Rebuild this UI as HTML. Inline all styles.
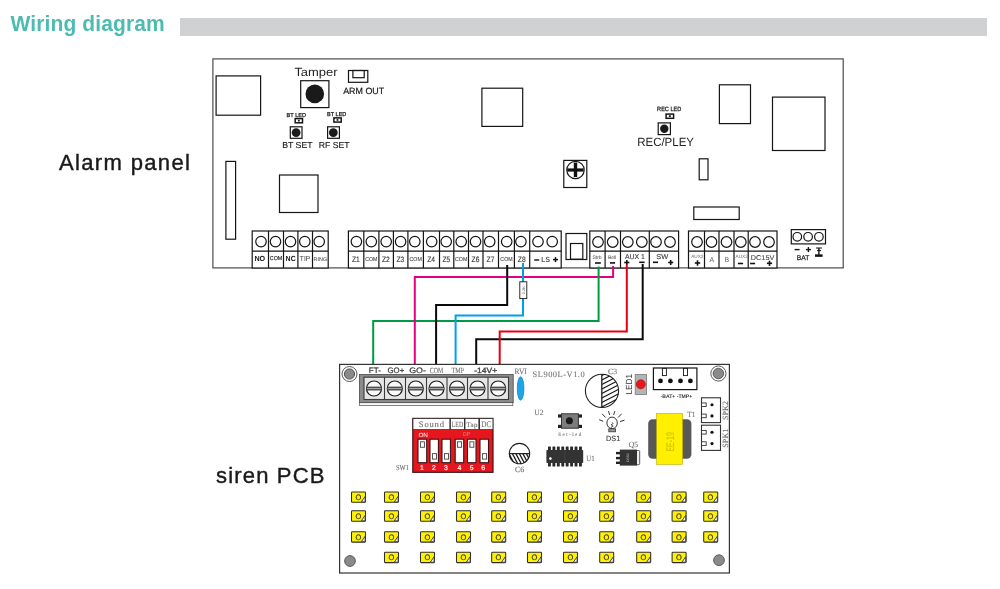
<!DOCTYPE html>
<html lang="en"><head><meta charset="utf-8"><title>Wiring diagram</title>
<style>html,body{margin:0;padding:0;background:#fff;}body{width:1000px;height:589px;overflow:hidden;position:relative;font-family:"Liberation Sans",sans-serif;}#stage{position:absolute;left:0;top:0;width:1000px;height:589px;will-change:transform;}svg{position:absolute;left:0;top:0;display:block;text-rendering:geometricPrecision;}.title{position:absolute;left:10.5px;top:12.1px;font-size:21px;line-height:24px;font-weight:bold;color:#4cbcb0;letter-spacing:0.12px;transform:scale(1,1.06);transform-origin:0 19.27px;white-space:nowrap;margin:0;}.bar{position:absolute;left:180px;top:18px;width:806.8px;height:17.9px;background:#d0d1d2;}.lbl{position:absolute;font-size:21.4px;line-height:24px;color:#1a1a1a;letter-spacing:1.33px;white-space:nowrap;transform:scaleX(1.03);transform-origin:0 0;-webkit-text-stroke:0.4px #1a1a1a;}</style></head><body>
<div id="stage">
<h1 class="title">Wiring diagram</h1><div class="bar"></div>
<div class="lbl" style="left:58.8px;top:150.5px;letter-spacing:1.3px;">Alarm panel</div>
<div class="lbl" style="left:216.4px;top:464.4px;letter-spacing:1.13px;">siren PCB</div>
<svg width="1000" height="589" viewBox="0 0 1000 589">
<g id="alarm-panel">
<rect x="212.90" y="58.90" width="630.30" height="209.00" fill="none" stroke="#444" stroke-width="1.15"/>
<rect x="216.10" y="75.90" width="44.50" height="39.30" fill="none" stroke="#151515" stroke-width="1.2"/>
<rect x="225.90" y="161.40" width="9.70" height="77.80" fill="none" stroke="#151515" stroke-width="1.2"/>
<rect x="279.50" y="175.00" width="38.50" height="37.50" fill="none" stroke="#151515" stroke-width="1.2"/>
<rect x="481.90" y="88.20" width="40.80" height="38.20" fill="none" stroke="#151515" stroke-width="1.2"/>
<rect x="719.40" y="84.80" width="31.10" height="38.80" fill="none" stroke="#151515" stroke-width="1.2"/>
<rect x="772.50" y="97.10" width="52.50" height="53.40" fill="none" stroke="#151515" stroke-width="1.2"/>
<rect x="699.20" y="158.80" width="8.80" height="21.00" fill="none" stroke="#151515" stroke-width="1.2"/>
<rect x="693.80" y="207.00" width="45.40" height="12.50" fill="none" stroke="#151515" stroke-width="1.2"/>
<text font-size="11.87" fill="#222" font-family="'Liberation Sans', sans-serif" transform="translate(294.40 76.10) scale(1.0913 1)" x="-0.000" y="0">Tamper</text>
<rect x="300.70" y="80.70" width="28.20" height="26.90" fill="none" stroke="#151515" stroke-width="1.2"/>
<circle cx="314.80" cy="93.90" r="9.30" fill="#1a1a1a" stroke="none" stroke-width="1.2"/>
<rect x="348.50" y="70.50" width="19.30" height="11.80" fill="none" stroke="#151515" stroke-width="1.2"/>
<rect x="352.90" y="70.50" width="11.30" height="7.20" fill="none" stroke="#151515" stroke-width="1.2"/>
<text font-size="9.01" fill="#1a1a1a" font-family="'Liberation Sans', sans-serif" stroke="#1a1a1a" stroke-width="0.2" transform="translate(343.20 93.60) scale(0.9869 1)" x="-0.000" y="0">ARM OUT</text>
<text font-size="5.72" fill="#1a1a1a" font-family="'Liberation Sans', sans-serif" stroke="#1a1a1a" stroke-width="0.25" transform="translate(286.60 117.20) scale(0.9738 1)" x="-0.000" y="0">BT LED</text>
<rect x="295.20" y="118.60" width="7.30" height="4.20" fill="none" stroke="#151515" stroke-width="1.5"/>
<rect x="297.90" y="119.80" width="1.80" height="1.70" fill="#151515" stroke="none" stroke-width="1.2"/>
<rect x="290.30" y="126.80" width="11.70" height="11.50" fill="none" stroke="#151515" stroke-width="1.2"/>
<circle cx="296.10" cy="132.60" r="4.40" fill="#1a1a1a" stroke="none" stroke-width="1.2"/>
<text font-size="8.59" fill="#1a1a1a" font-family="'Liberation Sans', sans-serif" stroke="#1a1a1a" stroke-width="0.15" transform="translate(282.20 148.20) scale(1.0164 1)" x="-0.000" y="0">BT SET</text>
<text font-size="5.72" fill="#1a1a1a" font-family="'Liberation Sans', sans-serif" stroke="#1a1a1a" stroke-width="0.25" transform="translate(327.10 116.10) scale(0.9637 1)" x="-0.000" y="0">BT LED</text>
<rect x="333.90" y="117.90" width="7.30" height="4.20" fill="none" stroke="#151515" stroke-width="1.5"/>
<rect x="336.60" y="119.10" width="1.80" height="1.70" fill="#151515" stroke="none" stroke-width="1.2"/>
<rect x="327.60" y="126.80" width="11.80" height="11.50" fill="none" stroke="#151515" stroke-width="1.2"/>
<circle cx="333.30" cy="132.60" r="4.40" fill="#1a1a1a" stroke="none" stroke-width="1.2"/>
<text font-size="8.59" fill="#1a1a1a" font-family="'Liberation Sans', sans-serif" stroke="#1a1a1a" stroke-width="0.15" transform="translate(318.80 148.20) scale(1.0116 1)" x="-0.000" y="0">RF SET</text>
<text font-size="6.15" fill="#1a1a1a" font-family="'Liberation Sans', sans-serif" stroke="#1a1a1a" stroke-width="0.25" transform="translate(657.10 110.70) scale(0.9077 1)" x="-0.000" y="0">REC LED</text>
<rect x="666.10" y="114.10" width="7.50" height="4.20" fill="none" stroke="#151515" stroke-width="1.5"/>
<rect x="668.90" y="115.30" width="1.90" height="1.70" fill="#151515" stroke="none" stroke-width="1.2"/>
<rect x="658.20" y="122.90" width="12.20" height="11.70" fill="none" stroke="#151515" stroke-width="1.2"/>
<circle cx="664.30" cy="128.70" r="4.20" fill="#1a1a1a" stroke="none" stroke-width="1.2"/>
<text font-size="11.98" fill="#222" font-family="'Liberation Sans', sans-serif" transform="translate(637.20 146.30) scale(0.9586 1)" x="-0.000" y="0">REC/PLEY</text>
<rect x="563.80" y="160.40" width="23.00" height="27.10" fill="none" stroke="#151515" stroke-width="1.2"/>
<circle cx="575.50" cy="170.00" r="8.70" fill="none" stroke="#151515" stroke-width="1.2"/>
<line x1="567.20" y1="170.00" x2="583.60" y2="170.00" stroke="#111" stroke-width="3.2"/>
<line x1="575.50" y1="162.60" x2="575.50" y2="177.00" stroke="#111" stroke-width="3.4"/>
<rect x="252.20" y="231.00" width="76.00" height="37.00" fill="#fff" stroke="#151515" stroke-width="1.2"/><line x1="252.20" y1="251.20" x2="328.20" y2="251.20" stroke="#151515" stroke-width="1.2"/><line x1="268.50" y1="231.00" x2="268.50" y2="268.00" stroke="#151515" stroke-width="1.2"/><line x1="283.50" y1="231.00" x2="283.50" y2="268.00" stroke="#151515" stroke-width="1.2"/><line x1="297.90" y1="231.00" x2="297.90" y2="268.00" stroke="#151515" stroke-width="1.2"/><line x1="312.50" y1="231.00" x2="312.50" y2="268.00" stroke="#151515" stroke-width="1.2"/><circle cx="261.00" cy="241.60" r="5.25" fill="none" stroke="#151515" stroke-width="1.2"/><circle cx="275.50" cy="241.60" r="5.25" fill="none" stroke="#151515" stroke-width="1.2"/><circle cx="290.50" cy="241.60" r="5.25" fill="none" stroke="#151515" stroke-width="1.2"/><circle cx="304.80" cy="241.60" r="5.25" fill="none" stroke="#151515" stroke-width="1.2"/><circle cx="319.20" cy="241.60" r="5.25" fill="none" stroke="#151515" stroke-width="1.2"/>
<text font-size="7.42" fill="#1a1a1a" font-family="'Liberation Sans', sans-serif" font-weight="bold" transform="translate(254.40 261.00) scale(0.9704 1)" x="-0.000" y="0">NO</text>
<text font-size="5.72" fill="#222" font-family="'Liberation Sans', sans-serif" stroke="#222" stroke-width="0.15" transform="translate(269.80 260.00) scale(0.9292 1)" x="-0.000" y="0">COM</text>
<text font-size="7.42" fill="#1a1a1a" font-family="'Liberation Sans', sans-serif" font-weight="bold" transform="translate(285.60 261.00) scale(0.9426 1)" x="-0.000" y="0">NC</text>
<text font-size="7.21" fill="#3a3a3a" font-family="'Liberation Sans', sans-serif" transform="translate(299.80 261.20) scale(0.9270 1)" x="-0.000" y="0">TIP</text>
<text font-size="5.3" fill="#666" font-family="'Liberation Sans', sans-serif" stroke="#666" stroke-width="0.1" transform="translate(313.40 260.60) scale(1.0415 1)" x="-0.000" y="0">RING</text>
<rect x="348.40" y="231.00" width="212.80" height="37.00" fill="#fff" stroke="#151515" stroke-width="1.2"/><line x1="348.40" y1="251.20" x2="561.20" y2="251.20" stroke="#151515" stroke-width="1.2"/><line x1="363.80" y1="231.00" x2="363.80" y2="268.00" stroke="#151515" stroke-width="1.2"/><line x1="378.90" y1="231.00" x2="378.90" y2="268.00" stroke="#151515" stroke-width="1.2"/><line x1="393.40" y1="231.00" x2="393.40" y2="268.00" stroke="#151515" stroke-width="1.2"/><line x1="407.90" y1="231.00" x2="407.90" y2="268.00" stroke="#151515" stroke-width="1.2"/><line x1="423.40" y1="231.00" x2="423.40" y2="268.00" stroke="#151515" stroke-width="1.2"/><line x1="439.50" y1="231.00" x2="439.50" y2="268.00" stroke="#151515" stroke-width="1.2"/><line x1="453.80" y1="231.00" x2="453.80" y2="268.00" stroke="#151515" stroke-width="1.2"/><line x1="468.50" y1="231.00" x2="468.50" y2="268.00" stroke="#151515" stroke-width="1.2"/><line x1="483.00" y1="231.00" x2="483.00" y2="268.00" stroke="#151515" stroke-width="1.2"/><line x1="498.50" y1="231.00" x2="498.50" y2="268.00" stroke="#151515" stroke-width="1.2"/><line x1="514.40" y1="231.00" x2="514.40" y2="268.00" stroke="#151515" stroke-width="1.2"/><line x1="529.70" y1="231.00" x2="529.70" y2="268.00" stroke="#151515" stroke-width="1.2"/><circle cx="356.40" cy="241.60" r="5.25" fill="none" stroke="#151515" stroke-width="1.2"/><circle cx="371.30" cy="241.60" r="5.25" fill="none" stroke="#151515" stroke-width="1.2"/><circle cx="386.20" cy="241.60" r="5.25" fill="none" stroke="#151515" stroke-width="1.2"/><circle cx="400.60" cy="241.60" r="5.25" fill="none" stroke="#151515" stroke-width="1.2"/><circle cx="414.80" cy="241.60" r="5.25" fill="none" stroke="#151515" stroke-width="1.2"/><circle cx="431.70" cy="241.60" r="5.25" fill="none" stroke="#151515" stroke-width="1.2"/><circle cx="446.20" cy="241.60" r="5.25" fill="none" stroke="#151515" stroke-width="1.2"/><circle cx="461.20" cy="241.60" r="5.25" fill="none" stroke="#151515" stroke-width="1.2"/><circle cx="475.50" cy="241.60" r="5.25" fill="none" stroke="#151515" stroke-width="1.2"/><circle cx="489.70" cy="241.60" r="5.25" fill="none" stroke="#151515" stroke-width="1.2"/><circle cx="506.70" cy="241.60" r="5.25" fill="none" stroke="#151515" stroke-width="1.2"/><circle cx="520.90" cy="241.60" r="5.25" fill="none" stroke="#151515" stroke-width="1.2"/><circle cx="538.00" cy="241.60" r="5.25" fill="none" stroke="#151515" stroke-width="1.2"/><circle cx="552.20" cy="241.60" r="5.25" fill="none" stroke="#151515" stroke-width="1.2"/>
<text font-size="7.74" fill="#333" font-family="'Liberation Sans', sans-serif" stroke="#333" stroke-width="0.12" transform="translate(351.90 262.00) scale(0.8635 1)" x="-0.000" y="0">Z1</text>
<text font-size="5.72" fill="#444" font-family="'Liberation Sans', sans-serif" stroke="#444" stroke-width="0.1" transform="translate(365.25 261.40) scale(0.9142 1)" x="-0.000" y="0">COM</text>
<text font-size="7.74" fill="#333" font-family="'Liberation Sans', sans-serif" stroke="#333" stroke-width="0.12" transform="translate(381.95 262.00) scale(0.8635 1)" x="-0.000" y="0">Z2</text>
<text font-size="7.74" fill="#333" font-family="'Liberation Sans', sans-serif" stroke="#333" stroke-width="0.12" transform="translate(396.45 262.00) scale(0.8635 1)" x="-0.000" y="0">Z3</text>
<text font-size="5.72" fill="#444" font-family="'Liberation Sans', sans-serif" stroke="#444" stroke-width="0.1" transform="translate(409.55 261.40) scale(0.9142 1)" x="-0.000" y="0">COM</text>
<text font-size="7.74" fill="#333" font-family="'Liberation Sans', sans-serif" stroke="#333" stroke-width="0.12" transform="translate(427.25 262.00) scale(0.8635 1)" x="-0.000" y="0">Z4</text>
<text font-size="7.74" fill="#333" font-family="'Liberation Sans', sans-serif" stroke="#333" stroke-width="0.12" transform="translate(442.45 262.00) scale(0.8635 1)" x="-0.000" y="0">Z5</text>
<text font-size="5.72" fill="#444" font-family="'Liberation Sans', sans-serif" stroke="#444" stroke-width="0.1" transform="translate(455.05 261.40) scale(0.9142 1)" x="-0.000" y="0">COM</text>
<text font-size="7.74" fill="#333" font-family="'Liberation Sans', sans-serif" stroke="#333" stroke-width="0.12" transform="translate(471.55 262.00) scale(0.8635 1)" x="-0.000" y="0">Z6</text>
<text font-size="7.74" fill="#333" font-family="'Liberation Sans', sans-serif" stroke="#333" stroke-width="0.12" transform="translate(486.55 262.00) scale(0.8635 1)" x="-0.000" y="0">Z7</text>
<text font-size="5.72" fill="#444" font-family="'Liberation Sans', sans-serif" stroke="#444" stroke-width="0.1" transform="translate(500.35 261.40) scale(0.9142 1)" x="-0.000" y="0">COM</text>
<text font-size="7.74" fill="#333" font-family="'Liberation Sans', sans-serif" stroke="#333" stroke-width="0.12" transform="translate(517.85 262.00) scale(0.8635 1)" x="-0.000" y="0">Z8</text>
<line x1="534.20" y1="260.00" x2="539.20" y2="260.00" stroke="#111" stroke-width="1.4"/>
<text font-size="7.42" fill="#555" font-family="'Liberation Sans', sans-serif" font-weight="bold" transform="translate(541.30 261.80) scale(0.9069 1)" x="-0.000" y="0">LS</text>
<line x1="553.00" y1="259.60" x2="558.00" y2="259.60" stroke="#111" stroke-width="1.5"/><line x1="555.50" y1="257.10" x2="555.50" y2="262.10" stroke="#111" stroke-width="1.5"/>
<rect x="566.00" y="233.50" width="20.80" height="26.00" fill="none" stroke="#151515" stroke-width="1.2"/>
<rect x="570.50" y="243.50" width="12.30" height="15.70" fill="none" stroke="#151515" stroke-width="1.2"/>
<rect x="589.80" y="231.00" width="88.80" height="37.00" fill="#fff" stroke="#151515" stroke-width="1.2"/><line x1="589.80" y1="251.20" x2="678.60" y2="251.20" stroke="#151515" stroke-width="1.2"/><line x1="605.10" y1="231.00" x2="605.10" y2="268.00" stroke="#151515" stroke-width="1.2"/><line x1="620.50" y1="231.00" x2="620.50" y2="268.00" stroke="#151515" stroke-width="1.2"/><line x1="649.30" y1="231.00" x2="649.30" y2="268.00" stroke="#151515" stroke-width="1.2"/><circle cx="598.00" cy="242.00" r="5.30" fill="none" stroke="#151515" stroke-width="1.2"/><circle cx="612.70" cy="242.00" r="5.30" fill="none" stroke="#151515" stroke-width="1.2"/><circle cx="627.80" cy="242.00" r="5.30" fill="none" stroke="#151515" stroke-width="1.2"/><circle cx="641.80" cy="242.00" r="5.30" fill="none" stroke="#151515" stroke-width="1.2"/><circle cx="656.00" cy="242.00" r="5.30" fill="none" stroke="#151515" stroke-width="1.2"/><circle cx="670.00" cy="242.00" r="5.30" fill="none" stroke="#151515" stroke-width="1.2"/>
<text font-size="4.88" fill="#666" font-family="'Liberation Sans', sans-serif" stroke="#666" stroke-width="0.1" transform="translate(592.40 259.40) scale(1.0279 1)" x="-0.000" y="0">Strb</text>
<line x1="595.00" y1="263.00" x2="600.80" y2="263.00" stroke="#111" stroke-width="1.6"/>
<text font-size="4.88" fill="#666" font-family="'Liberation Sans', sans-serif" stroke="#666" stroke-width="0.1" transform="translate(608.00 259.40) scale(0.9828 1)" x="-0.000" y="0">Bell</text>
<line x1="609.90" y1="262.90" x2="615.10" y2="262.90" stroke="#111" stroke-width="1.6"/>
<text font-size="7.0" fill="#444" font-family="'Liberation Sans', sans-serif" stroke="#444" stroke-width="0.15" transform="translate(625.00 259.00) scale(0.9837 1)" x="-0.000" y="0">AUX 1</text>
<line x1="624.20" y1="262.50" x2="629.40" y2="262.50" stroke="#111" stroke-width="1.6"/><line x1="626.80" y1="259.90" x2="626.80" y2="265.10" stroke="#111" stroke-width="1.6"/>
<line x1="639.20" y1="262.30" x2="644.60" y2="262.30" stroke="#111" stroke-width="1.6"/>
<text font-size="7.0" fill="#444" font-family="'Liberation Sans', sans-serif" stroke="#444" stroke-width="0.15" transform="translate(656.20 259.00) scale(1.0552 1)" x="-0.000" y="0">SW</text>
<line x1="653.00" y1="262.30" x2="658.00" y2="262.30" stroke="#111" stroke-width="1.6"/>
<line x1="668.20" y1="262.50" x2="673.20" y2="262.50" stroke="#111" stroke-width="1.6"/><line x1="670.70" y1="260.00" x2="670.70" y2="265.00" stroke="#111" stroke-width="1.6"/>
<rect x="688.50" y="231.00" width="88.50" height="37.00" fill="#fff" stroke="#151515" stroke-width="1.2"/><line x1="688.50" y1="251.20" x2="777.00" y2="251.20" stroke="#151515" stroke-width="1.2"/><line x1="704.50" y1="231.00" x2="704.50" y2="268.00" stroke="#151515" stroke-width="1.2"/><line x1="719.00" y1="231.00" x2="719.00" y2="268.00" stroke="#151515" stroke-width="1.2"/><line x1="734.00" y1="231.00" x2="734.00" y2="268.00" stroke="#151515" stroke-width="1.2"/><line x1="748.20" y1="231.00" x2="748.20" y2="268.00" stroke="#151515" stroke-width="1.2"/><circle cx="697.00" cy="242.00" r="5.30" fill="none" stroke="#151515" stroke-width="1.2"/><circle cx="711.50" cy="242.00" r="5.30" fill="none" stroke="#151515" stroke-width="1.2"/><circle cx="726.50" cy="242.00" r="5.30" fill="none" stroke="#151515" stroke-width="1.2"/><circle cx="740.80" cy="242.00" r="5.30" fill="none" stroke="#151515" stroke-width="1.2"/><circle cx="755.00" cy="242.00" r="5.30" fill="none" stroke="#151515" stroke-width="1.2"/><circle cx="769.00" cy="242.00" r="5.30" fill="none" stroke="#151515" stroke-width="1.2"/>
<text font-size="4.66" fill="#666" font-family="'Liberation Sans', sans-serif" transform="translate(691.20 258.20) scale(1.0105 1)" x="-0.000" y="0">AUX2</text>
<line x1="694.80" y1="263.00" x2="700.20" y2="263.00" stroke="#111" stroke-width="1.6"/><line x1="697.50" y1="260.30" x2="697.50" y2="265.70" stroke="#111" stroke-width="1.6"/>
<text font-size="7.0" fill="#555" font-family="'Liberation Sans', sans-serif" transform="translate(709.50 261.80) scale(0.9852 1)" x="-0.000" y="0">A</text>
<text font-size="7.0" fill="#555" font-family="'Liberation Sans', sans-serif" transform="translate(724.80 261.80) scale(0.9210 1)" x="-0.000" y="0">B</text>
<text font-size="4.66" fill="#666" font-family="'Liberation Sans', sans-serif" transform="translate(735.50 258.20) scale(1.0105 1)" x="-0.000" y="0">AUX2</text>
<line x1="737.90" y1="263.50" x2="743.10" y2="263.50" stroke="#111" stroke-width="1.6"/>
<text font-size="7.0" fill="#444" font-family="'Liberation Sans', sans-serif" stroke="#444" stroke-width="0.1" transform="translate(750.80 259.80) scale(1.0413 1)" x="-0.000" y="0">DC15V</text>
<line x1="750.10" y1="263.50" x2="755.10" y2="263.50" stroke="#111" stroke-width="1.6"/>
<line x1="766.90" y1="263.30" x2="772.10" y2="263.30" stroke="#111" stroke-width="1.6"/><line x1="769.50" y1="260.70" x2="769.50" y2="265.90" stroke="#111" stroke-width="1.6"/>
<rect x="791.30" y="229.60" width="34.20" height="14.30" fill="none" stroke="#151515" stroke-width="1.2"/>
<circle cx="797.30" cy="236.80" r="4.30" fill="none" stroke="#151515" stroke-width="1.2"/>
<circle cx="808.10" cy="236.80" r="4.30" fill="none" stroke="#151515" stroke-width="1.2"/>
<circle cx="818.90" cy="236.80" r="4.30" fill="none" stroke="#151515" stroke-width="1.2"/>
<line x1="794.60" y1="249.60" x2="799.60" y2="249.60" stroke="#111" stroke-width="1.4"/>
<line x1="805.90" y1="249.60" x2="810.90" y2="249.60" stroke="#111" stroke-width="1.4"/><line x1="808.40" y1="247.10" x2="808.40" y2="252.10" stroke="#111" stroke-width="1.4"/>
<line x1="816.00" y1="248.00" x2="822.00" y2="248.00" stroke="#111" stroke-width="1"/>
<line x1="818.90" y1="248.00" x2="818.90" y2="255.00" stroke="#111" stroke-width="1.4"/>
<line x1="817.00" y1="250.60" x2="821.00" y2="250.60" stroke="#111" stroke-width="1"/>
<line x1="815.00" y1="255.60" x2="822.60" y2="255.60" stroke="#111" stroke-width="2.5"/>
<text font-size="6.78" fill="#333" font-family="'Liberation Sans', sans-serif" stroke="#333" stroke-width="0.3" transform="translate(796.80 259.60) scale(0.9933 1)" x="-0.000" y="0">BAT</text>
</g>
<g id="wires" fill="none" stroke-width="2" stroke-linejoin="miter">
<path d="M613.1 266V277H414.8" stroke="#e4007f"/>
<path d="M598.6 266.4V320.9H373.2V365" stroke="#009944"/>
<path d="M414.8 276V365.8" stroke="#e4007f"/>
<path d="M507.2 265V305H436.1V365" stroke="#0a0a0a"/>
<path d="M523 263V315.6H455.6V365.4" stroke="#00a0e9"/>
<path d="M642.7 264V339.2H476.2V365" stroke="#0a0a0a"/>
<path d="M626.8 264.5V331.5H499.7V365" stroke="#e60012"/>
</g>
<rect x="519.80" y="281.80" width="7.00" height="16.80" fill="#fff" stroke="#151515" stroke-width="0.9"/>
<text font-size="3.6" fill="#555" font-family="'Liberation Sans', sans-serif" transform="translate(524.60 294.20) rotate(-90) scale(1.0803 1)" x="-0.000" y="0">2.2K</text>
<g id="siren-pcb">
<rect x="339.60" y="364.40" width="389.80" height="208.60" fill="#fff" stroke="#333" stroke-width="1.2"/>
<circle cx="349.50" cy="374.00" r="7.50" fill="#fff" stroke="#444" stroke-width="0.9"/>
<circle cx="349.50" cy="374.00" r="5.10" fill="#8a8a8a" stroke="#444" stroke-width="0.9"/>
<circle cx="718.40" cy="373.50" r="7.60" fill="#fff" stroke="#444" stroke-width="0.9"/>
<circle cx="718.40" cy="373.50" r="5.30" fill="#8a8a8a" stroke="#444" stroke-width="0.8"/>
<circle cx="350.00" cy="561.00" r="5.40" fill="#8a8a8a" stroke="#444" stroke-width="0.8"/>
<circle cx="719.00" cy="560.20" r="5.40" fill="#8a8a8a" stroke="#444" stroke-width="0.8"/>
<rect x="359.60" y="402.40" width="153.20" height="3.20" fill="#f6f6f6" stroke="#666" stroke-width="0.8"/>
<rect x="359.50" y="374.50" width="153.70" height="28.10" fill="#8c8c8c" stroke="#555" stroke-width="0.9"/>
<rect x="364.00" y="377.20" width="144.50" height="22.30" fill="#e6e6e6" stroke="#3a3a3a" stroke-width="1.1"/>
<line x1="384.50" y1="377.20" x2="384.50" y2="399.50" stroke="#3a3a3a" stroke-width="1.1"/>
<line x1="405.50" y1="377.20" x2="405.50" y2="399.50" stroke="#3a3a3a" stroke-width="1.1"/>
<line x1="426.50" y1="377.20" x2="426.50" y2="399.50" stroke="#3a3a3a" stroke-width="1.1"/>
<line x1="447.00" y1="377.20" x2="447.00" y2="399.50" stroke="#3a3a3a" stroke-width="1.1"/>
<line x1="467.50" y1="377.20" x2="467.50" y2="399.50" stroke="#3a3a3a" stroke-width="1.1"/>
<line x1="488.00" y1="377.20" x2="488.00" y2="399.50" stroke="#3a3a3a" stroke-width="1.1"/>
<circle cx="374.00" cy="388.50" r="7.50" fill="#fbfbfb" stroke="#1c1c1c" stroke-width="1.2"/>
<rect x="366.70" y="387.30" width="14.60" height="2.60" fill="#a0a0a0" stroke="none" stroke-width="1.2"/>
<line x1="366.60" y1="387.20" x2="381.40" y2="387.20" stroke="#222" stroke-width="1"/>
<line x1="366.60" y1="389.90" x2="381.40" y2="389.90" stroke="#222" stroke-width="1"/>
<circle cx="394.80" cy="388.50" r="7.50" fill="#fbfbfb" stroke="#1c1c1c" stroke-width="1.2"/>
<rect x="387.50" y="387.30" width="14.60" height="2.60" fill="#a0a0a0" stroke="none" stroke-width="1.2"/>
<line x1="387.40" y1="387.20" x2="402.20" y2="387.20" stroke="#222" stroke-width="1"/>
<line x1="387.40" y1="389.90" x2="402.20" y2="389.90" stroke="#222" stroke-width="1"/>
<circle cx="415.80" cy="388.50" r="7.50" fill="#fbfbfb" stroke="#1c1c1c" stroke-width="1.2"/>
<rect x="408.50" y="387.30" width="14.60" height="2.60" fill="#a0a0a0" stroke="none" stroke-width="1.2"/>
<line x1="408.40" y1="387.20" x2="423.20" y2="387.20" stroke="#222" stroke-width="1"/>
<line x1="408.40" y1="389.90" x2="423.20" y2="389.90" stroke="#222" stroke-width="1"/>
<circle cx="436.50" cy="388.50" r="7.50" fill="#fbfbfb" stroke="#1c1c1c" stroke-width="1.2"/>
<rect x="429.20" y="387.30" width="14.60" height="2.60" fill="#a0a0a0" stroke="none" stroke-width="1.2"/>
<line x1="429.10" y1="387.20" x2="443.90" y2="387.20" stroke="#222" stroke-width="1"/>
<line x1="429.10" y1="389.90" x2="443.90" y2="389.90" stroke="#222" stroke-width="1"/>
<circle cx="457.00" cy="388.50" r="7.50" fill="#fbfbfb" stroke="#1c1c1c" stroke-width="1.2"/>
<rect x="449.70" y="387.30" width="14.60" height="2.60" fill="#a0a0a0" stroke="none" stroke-width="1.2"/>
<line x1="449.60" y1="387.20" x2="464.40" y2="387.20" stroke="#222" stroke-width="1"/>
<line x1="449.60" y1="389.90" x2="464.40" y2="389.90" stroke="#222" stroke-width="1"/>
<circle cx="477.50" cy="388.50" r="7.50" fill="#fbfbfb" stroke="#1c1c1c" stroke-width="1.2"/>
<rect x="470.20" y="387.30" width="14.60" height="2.60" fill="#a0a0a0" stroke="none" stroke-width="1.2"/>
<line x1="470.10" y1="387.20" x2="484.90" y2="387.20" stroke="#222" stroke-width="1"/>
<line x1="470.10" y1="389.90" x2="484.90" y2="389.90" stroke="#222" stroke-width="1"/>
<circle cx="498.20" cy="388.50" r="7.50" fill="#fbfbfb" stroke="#1c1c1c" stroke-width="1.2"/>
<rect x="490.90" y="387.30" width="14.60" height="2.60" fill="#a0a0a0" stroke="none" stroke-width="1.2"/>
<line x1="490.80" y1="387.20" x2="505.60" y2="387.20" stroke="#222" stroke-width="1"/>
<line x1="490.80" y1="389.90" x2="505.60" y2="389.90" stroke="#222" stroke-width="1"/>
<text font-size="7.95" fill="#333" font-family="'Liberation Sans', sans-serif" stroke="#333" stroke-width="0.2" transform="translate(368.80 372.50) scale(1.0147 1)" x="-0.000" y="0">FT-</text>
<text font-size="7.95" fill="#333" font-family="'Liberation Sans', sans-serif" stroke="#333" stroke-width="0.2" transform="translate(387.50 372.50) scale(0.9875 1)" x="-0.000" y="0">GO+</text>
<text font-size="7.95" fill="#333" font-family="'Liberation Sans', sans-serif" stroke="#333" stroke-width="0.2" transform="translate(409.20 372.50) scale(1.1187 1)" x="-0.000" y="0">GO-</text>
<text font-size="7.8" fill="#707070" font-family="'Liberation Serif', serif" stroke="#707070" stroke-width="0.12" transform="translate(429.80 372.50) scale(0.7541 1)" x="-0.000" y="0">COM</text>
<text font-size="7.8" fill="#707070" font-family="'Liberation Serif', serif" stroke="#707070" stroke-width="0.12" transform="translate(451.50 372.50) scale(0.7857 1)" x="-0.000" y="0">TMP</text>
<text font-size="7.74" fill="#444" font-family="'Liberation Sans', sans-serif" stroke="#444" stroke-width="0.35" transform="translate(474.20 372.50) scale(1.0974 1)" x="-0.000" y="0">-14V+</text>
<text font-size="8.2" fill="#707070" font-family="'Liberation Serif', serif" stroke="#707070" stroke-width="0.12" transform="translate(514.50 374.00) scale(0.9209 1)" x="-0.000" y="0">RVI</text>
<ellipse cx="520.6" cy="388.5" rx="3.3" ry="11.7" fill="#1ea4ea" stroke="#1585c4" stroke-width="0.8"/>
<text font-size="8.4" fill="#777" font-family="'Liberation Serif', serif" letter-spacing="0.530" stroke="#777" stroke-width="0.12" transform="translate(532.60 376.80) scale(1.0000 1)" x="-0.000" y="0">SL900L-V1.0</text>
<text font-size="8" fill="#707070" font-family="'Liberation Serif', serif" stroke="#707070" stroke-width="0.12" transform="translate(608.00 374.00) scale(0.9640 1)" x="-0.000" y="0">C3</text>
<text font-size="8" fill="#777" font-family="'Liberation Serif', serif" stroke="#777" stroke-width="0.12" transform="translate(534.20 414.70) scale(0.9411 1)" x="-0.000" y="0">U2</text>
<text font-size="8" fill="#777" font-family="'Liberation Serif', serif" stroke="#777" stroke-width="0.12" transform="translate(586.20 460.80) scale(0.8592 1)" x="-0.000" y="0">U1</text>
<text font-size="8" fill="#707070" font-family="'Liberation Serif', serif" stroke="#707070" stroke-width="0.12" transform="translate(628.80 447.10) scale(0.9411 1)" x="-0.000" y="0">Q5</text>
<text font-size="8" fill="#777" font-family="'Liberation Serif', serif" stroke="#777" stroke-width="0.12" transform="translate(687.20 416.90) scale(0.9226 1)" x="-0.000" y="0">T1</text>
<text font-size="8" fill="#707070" font-family="'Liberation Serif', serif" stroke="#707070" stroke-width="0.12" transform="translate(515.00 472.00) scale(0.9854 1)" x="-0.000" y="0">C6</text>
<text font-size="7.6" fill="#707070" font-family="'Liberation Serif', serif" stroke="#707070" stroke-width="0.12" transform="translate(396.00 470.00) scale(0.8553 1)" x="-0.000" y="0">SW1</text>
<defs><clipPath id="c3r"><path d="M601.8 374 A16.8 16.8 0 0 1 601.8 407.6Z"/></clipPath><clipPath id="c6b"><path d="M509.1 453.6 A10.4 10.4 0 0 0 529.9 453.6Z"/></clipPath></defs>
<circle cx="602.00" cy="390.80" r="16.60" fill="#fff" stroke="#222" stroke-width="1.1"/>
<g clip-path="url(#c3r)" stroke="#222" stroke-width="1.1">
<line x1="601.80" y1="371.00" x2="620.00" y2="361.60" stroke="#151515" stroke-width="1.2"/>
<line x1="601.80" y1="375.50" x2="620.00" y2="366.10" stroke="#151515" stroke-width="1.2"/>
<line x1="601.80" y1="380.00" x2="620.00" y2="370.60" stroke="#151515" stroke-width="1.2"/>
<line x1="601.80" y1="384.50" x2="620.00" y2="375.10" stroke="#151515" stroke-width="1.2"/>
<line x1="601.80" y1="389.00" x2="620.00" y2="379.60" stroke="#151515" stroke-width="1.2"/>
<line x1="601.80" y1="393.50" x2="620.00" y2="384.10" stroke="#151515" stroke-width="1.2"/>
<line x1="601.80" y1="398.00" x2="620.00" y2="388.60" stroke="#151515" stroke-width="1.2"/>
<line x1="601.80" y1="402.50" x2="620.00" y2="393.10" stroke="#151515" stroke-width="1.2"/>
<line x1="601.80" y1="407.00" x2="620.00" y2="397.60" stroke="#151515" stroke-width="1.2"/>
<line x1="601.80" y1="411.50" x2="620.00" y2="402.10" stroke="#151515" stroke-width="1.2"/>
<line x1="601.80" y1="416.00" x2="620.00" y2="406.60" stroke="#151515" stroke-width="1.2"/>
<line x1="601.80" y1="420.50" x2="620.00" y2="411.10" stroke="#151515" stroke-width="1.2"/>
<line x1="601.80" y1="425.00" x2="620.00" y2="415.60" stroke="#151515" stroke-width="1.2"/>
<line x1="601.80" y1="429.50" x2="620.00" y2="420.10" stroke="#151515" stroke-width="1.2"/>
</g>
<line x1="601.80" y1="374.20" x2="601.80" y2="407.40" stroke="#222" stroke-width="1.3"/>
<circle cx="519.50" cy="453.60" r="10.20" fill="#fff" stroke="#222" stroke-width="1.1"/>
<g clip-path="url(#c6b)" stroke="#222" stroke-width="1.1">
<line x1="505.40" y1="453.60" x2="511.40" y2="465.00" stroke="#151515" stroke-width="1.2"/>
<line x1="508.90" y1="453.60" x2="514.90" y2="465.00" stroke="#151515" stroke-width="1.2"/>
<line x1="512.40" y1="453.60" x2="518.40" y2="465.00" stroke="#151515" stroke-width="1.2"/>
<line x1="515.90" y1="453.60" x2="521.90" y2="465.00" stroke="#151515" stroke-width="1.2"/>
<line x1="519.40" y1="453.60" x2="525.40" y2="465.00" stroke="#151515" stroke-width="1.2"/>
<line x1="522.90" y1="453.60" x2="528.90" y2="465.00" stroke="#151515" stroke-width="1.2"/>
<line x1="526.40" y1="453.60" x2="532.40" y2="465.00" stroke="#151515" stroke-width="1.2"/>
<line x1="529.90" y1="453.60" x2="535.90" y2="465.00" stroke="#151515" stroke-width="1.2"/>
<line x1="533.40" y1="453.60" x2="539.40" y2="465.00" stroke="#151515" stroke-width="1.2"/>
<line x1="536.90" y1="453.60" x2="542.90" y2="465.00" stroke="#151515" stroke-width="1.2"/>
</g>
<line x1="509.20" y1="453.60" x2="529.80" y2="453.60" stroke="#222" stroke-width="1.2"/>
<text font-size="8.9" fill="#333" font-family="'Liberation Sans', sans-serif" transform="translate(632.30 394.60) rotate(-90) scale(0.9255 1)" x="-0.000" y="0">LED1</text>
<rect x="635.20" y="374.60" width="11.40" height="19.80" fill="#b4b4b4" stroke="#777" stroke-width="0.8"/>
<circle cx="640.80" cy="384.30" r="4.50" fill="#e8171c" stroke="#a81418" stroke-width="0.7"/>
<rect x="653.40" y="368.00" width="43.50" height="21.60" fill="#fff" stroke="#151515" stroke-width="1.2"/>
<rect x="662.40" y="368.40" width="4.00" height="7.20" fill="#fff" stroke="#151515" stroke-width="0.9"/>
<rect x="683.50" y="368.40" width="4.00" height="7.20" fill="#fff" stroke="#151515" stroke-width="0.9"/>
<circle cx="660.50" cy="380.90" r="2.40" fill="#111" stroke="none" stroke-width="1.2"/>
<circle cx="670.40" cy="380.90" r="2.40" fill="#111" stroke="none" stroke-width="1.2"/>
<circle cx="680.50" cy="380.90" r="2.40" fill="#111" stroke="none" stroke-width="1.2"/>
<circle cx="690.40" cy="380.90" r="2.40" fill="#111" stroke="none" stroke-width="1.2"/>
<text font-size="5.09" fill="#333" font-family="'Liberation Sans', sans-serif" font-weight="bold" transform="translate(660.60 397.80) scale(1.0007 1)" x="-0.000" y="0">-BAT+ -TMP+</text>
<rect x="701.50" y="397.80" width="19.00" height="24.80" fill="#fff" stroke="#333" stroke-width="1.1"/><rect x="701.50" y="402.94" width="4.70" height="3.60" fill="#fff" stroke="#333" stroke-width="0.9"/><circle cx="712.00" cy="404.74" r="1.60" fill="#111" stroke="none" stroke-width="1.2"/><rect x="701.50" y="414.10" width="4.70" height="3.60" fill="#fff" stroke="#333" stroke-width="0.9"/><circle cx="712.00" cy="415.90" r="1.60" fill="#111" stroke="none" stroke-width="1.2"/><text font-size="8" fill="#707070" font-family="'Liberation Serif', serif" letter-spacing="0.109" stroke="#707070" stroke-width="0.12" transform="translate(728.00 420.10) rotate(-90) scale(1.0000 1)" x="-0.000" y="0">SPK2</text>
<rect x="701.50" y="425.20" width="19.00" height="25.20" fill="#fff" stroke="#333" stroke-width="1.1"/><rect x="701.50" y="430.46" width="4.70" height="3.60" fill="#fff" stroke="#333" stroke-width="0.9"/><circle cx="712.00" cy="432.26" r="1.60" fill="#111" stroke="none" stroke-width="1.2"/><rect x="701.50" y="441.80" width="4.70" height="3.60" fill="#fff" stroke="#333" stroke-width="0.9"/><circle cx="712.00" cy="443.60" r="1.60" fill="#111" stroke="none" stroke-width="1.2"/><text font-size="8" fill="#707070" font-family="'Liberation Serif', serif" letter-spacing="0.109" stroke="#707070" stroke-width="0.12" transform="translate(728.00 447.70) rotate(-90) scale(1.0000 1)" x="-0.000" y="0">SPK1</text>
<rect x="648.20" y="419.20" width="43.20" height="39.60" fill="#595757" stroke="none" stroke-width="1.2" rx="4.5"/>
<rect x="656.60" y="413.40" width="26.00" height="51.00" fill="#ffef00" stroke="#b8ac00" stroke-width="0.6"/>
<text font-size="11.02" fill="#d2c400" font-family="'Liberation Sans', sans-serif" stroke="#d2c400" stroke-width="0.15" transform="translate(673.50 451.60) rotate(-90) scale(0.6335 1)" x="-0.000" y="0">EE-19</text>
<rect x="558.00" y="414.40" width="24.00" height="3.20" fill="#222" stroke="none" stroke-width="1.2"/>
<rect x="558.00" y="424.80" width="24.00" height="3.20" fill="#222" stroke="none" stroke-width="1.2"/>
<rect x="561.50" y="413.80" width="16.90" height="14.40" fill="#7c7c7c" stroke="#333" stroke-width="1"/>
<circle cx="569.40" cy="420.80" r="3.50" fill="#1a1a1a" stroke="none" stroke-width="1.2"/>
<text font-size="5" fill="#777" font-family="'Liberation Serif', serif" letter-spacing="1.472" stroke="#777" stroke-width="0.12" transform="translate(558.20 436.40) scale(1.0000 1)" x="-0.000" y="0">Set-led</text>
<g stroke="#333" stroke-width="1" fill="none">
<ellipse cx="612.1" cy="422.9" rx="5.2" ry="5.8" fill="#fff"/>
<rect x="608.8" y="428.8" width="6.8" height="3" fill="#9a9a9a" stroke-width="0.8"/>
<path d="M612.1 428.6 l-1.1 -1.2 l2.2 -1.3 l-2.2 -1.3 l2.2 -1.3 l-1.1 -1.2" stroke-width="0.8"/>
<line x1="599.2" y1="419.7" x2="603.2" y2="421.3"/>
<line x1="602.1" y1="413.8" x2="605.6" y2="417.5"/>
<line x1="608.5" y1="411.1" x2="609.6" y2="414.9"/>
<line x1="614.9" y1="411.1" x2="613.6" y2="414.9"/>
<line x1="621.6" y1="413.8" x2="618.1" y2="417.5"/>
<line x1="624.5" y1="420.2" x2="620" y2="421.5"/>
</g>
<text font-size="7.63" fill="#333" font-family="'Liberation Sans', sans-serif" stroke="#333" stroke-width="0.1" transform="translate(606.00 441.30) scale(0.9569 1)" x="-0.000" y="0">DS1</text>
<rect x="548.00" y="446.40" width="2.90" height="20.20" fill="#2a2a2a" stroke="none" stroke-width="1.2" rx="0.6"/>
<rect x="552.43" y="446.40" width="2.90" height="20.20" fill="#2a2a2a" stroke="none" stroke-width="1.2" rx="0.6"/>
<rect x="556.86" y="446.40" width="2.90" height="20.20" fill="#2a2a2a" stroke="none" stroke-width="1.2" rx="0.6"/>
<rect x="561.29" y="446.40" width="2.90" height="20.20" fill="#2a2a2a" stroke="none" stroke-width="1.2" rx="0.6"/>
<rect x="565.72" y="446.40" width="2.90" height="20.20" fill="#2a2a2a" stroke="none" stroke-width="1.2" rx="0.6"/>
<rect x="570.15" y="446.40" width="2.90" height="20.20" fill="#2a2a2a" stroke="none" stroke-width="1.2" rx="0.6"/>
<rect x="574.58" y="446.40" width="2.90" height="20.20" fill="#2a2a2a" stroke="none" stroke-width="1.2" rx="0.6"/>
<rect x="579.01" y="446.40" width="2.90" height="20.20" fill="#2a2a2a" stroke="none" stroke-width="1.2" rx="0.6"/>
<rect x="546.40" y="450.10" width="36.80" height="12.80" fill="#333" stroke="none" stroke-width="1.2" rx="0.6"/>
<line x1="564.80" y1="450.10" x2="564.80" y2="462.90" stroke="#4a4a4a" stroke-width="0.6"/>
<circle cx="550.40" cy="458.60" r="1.30" fill="#fff" stroke="none" stroke-width="1.2"/>
<rect x="616.00" y="451.90" width="4.40" height="2.40" fill="#222" stroke="none" stroke-width="1.2"/>
<rect x="616.00" y="456.90" width="4.40" height="2.40" fill="#222" stroke="none" stroke-width="1.2"/>
<rect x="616.00" y="461.60" width="4.40" height="2.40" fill="#222" stroke="none" stroke-width="1.2"/>
<rect x="635.00" y="450.50" width="4.70" height="14.10" fill="#eee" stroke="#333" stroke-width="0.8" rx="1"/>
<rect x="619.80" y="449.60" width="17.20" height="16.00" fill="#333" stroke="none" stroke-width="1.2"/>
<text font-size="3.39" fill="#bbb" font-family="'Liberation Sans', sans-serif" transform="translate(628.70 462.10) rotate(-90) scale(1.1104 1)" x="-0.000" y="0">D882</text>
<rect x="412.80" y="418.40" width="80.20" height="53.90" fill="#e6161f" stroke="#3c1416" stroke-width="1.2"/>
<rect x="412.80" y="418.40" width="80.20" height="11.20" fill="#333" stroke="none" stroke-width="1.2"/>
<rect x="413.40" y="418.90" width="36.00" height="10.20" fill="#fff" stroke="none" stroke-width="1.2"/>
<text font-size="8.6" fill="#707070" font-family="'Liberation Serif', serif" letter-spacing="0.805" stroke="#707070" stroke-width="0.12" transform="translate(418.80 427.40) scale(1.0000 1)" x="-0.000" y="0">Sound</text>
<rect x="450.90" y="418.90" width="13.10" height="10.20" fill="#fff" stroke="none" stroke-width="1.2"/>
<text font-size="8" fill="#707070" font-family="'Liberation Serif', serif" stroke="#707070" stroke-width="0.12" transform="translate(451.80 427.40) scale(0.7266 1)" x="-0.000" y="0">LED</text>
<rect x="465.40" y="418.90" width="13.00" height="10.20" fill="#fff" stroke="none" stroke-width="1.2"/>
<text font-size="7" fill="#707070" font-family="'Liberation Serif', serif" letter-spacing="0.403" stroke="#707070" stroke-width="0.12" transform="translate(466.30 427.40) scale(1.0000 1)" x="-0.000" y="0">Tap</text>
<rect x="480.00" y="418.90" width="12.50" height="10.20" fill="#fff" stroke="none" stroke-width="1.2"/>
<text font-size="8.6" fill="#707070" font-family="'Liberation Serif', serif" stroke="#707070" stroke-width="0.12" transform="translate(481.50 427.40) scale(0.7953 1)" x="-0.000" y="0">DC</text>
<text font-size="6.15" fill="#fff" font-family="'Liberation Sans', sans-serif" transform="translate(418.40 436.60) scale(1.0407 1)" x="-0.000" y="0">ON</text>
<text font-size="5.51" fill="#f08a8a" font-family="'Liberation Sans', sans-serif" transform="translate(463.00 436.40) scale(0.9146 1)" x="-0.000" y="0">DP</text>
<rect x="418.00" y="439.20" width="8.70" height="23.50" fill="#fff" stroke="#3c1416" stroke-width="1.1"/>
<rect x="420.45" y="441.80" width="4.00" height="5.50" fill="#fff" stroke="#555" stroke-width="1"/>
<text font-size="7.0" fill="#fff" font-family="'Liberation Sans', sans-serif" stroke="#fff" stroke-width="0.2" transform="translate(420.10 470.20) scale(0.9764 1)" x="-0.000" y="0">1</text>
<rect x="430.00" y="439.20" width="8.40" height="23.50" fill="#fff" stroke="#3c1416" stroke-width="1.1"/>
<rect x="432.50" y="453.60" width="4.00" height="5.50" fill="#fff" stroke="#555" stroke-width="1"/>
<text font-size="7.0" fill="#fff" font-family="'Liberation Sans', sans-serif" stroke="#fff" stroke-width="0.2" transform="translate(432.10 470.20) scale(0.9764 1)" x="-0.000" y="0">2</text>
<rect x="442.00" y="439.20" width="8.40" height="23.50" fill="#fff" stroke="#3c1416" stroke-width="1.1"/>
<rect x="444.50" y="453.60" width="4.00" height="5.50" fill="#fff" stroke="#555" stroke-width="1"/>
<text font-size="7.0" fill="#fff" font-family="'Liberation Sans', sans-serif" stroke="#fff" stroke-width="0.2" transform="translate(444.10 470.20) scale(0.9764 1)" x="-0.000" y="0">3</text>
<rect x="455.20" y="439.20" width="8.50" height="23.50" fill="#fff" stroke="#3c1416" stroke-width="1.1"/>
<rect x="457.55" y="441.80" width="4.00" height="5.50" fill="#fff" stroke="#555" stroke-width="1"/>
<text font-size="7.0" fill="#fff" font-family="'Liberation Sans', sans-serif" stroke="#fff" stroke-width="0.2" transform="translate(457.60 470.20) scale(0.9764 1)" x="-0.000" y="0">4</text>
<rect x="467.50" y="439.20" width="8.50" height="23.50" fill="#fff" stroke="#3c1416" stroke-width="1.1"/>
<rect x="469.85" y="441.80" width="4.00" height="5.50" fill="#fff" stroke="#555" stroke-width="1"/>
<text font-size="7.0" fill="#fff" font-family="'Liberation Sans', sans-serif" stroke="#fff" stroke-width="0.2" transform="translate(469.80 470.20) scale(0.9764 1)" x="-0.000" y="0">5</text>
<rect x="480.00" y="439.20" width="8.50" height="23.50" fill="#fff" stroke="#3c1416" stroke-width="1.1"/>
<rect x="482.55" y="453.60" width="4.00" height="5.50" fill="#fff" stroke="#555" stroke-width="1"/>
<text font-size="7.0" fill="#fff" font-family="'Liberation Sans', sans-serif" stroke="#fff" stroke-width="0.2" transform="translate(481.30 470.20) scale(0.9764 1)" x="-0.000" y="0">6</text>
<rect x="351.5" y="491.9" width="14" height="10.4" rx="0.8" fill="#fff100" stroke="#2e2e2e" stroke-width="1.05"/><path d="M365.1 496.5L361.3 501.9H365.1Z" fill="#fff" stroke="#333" stroke-width="0.9" stroke-linejoin="round"/>
<text font-size="7.95" fill="#333" font-family="'Liberation Sans', sans-serif" stroke="#333" stroke-width="0.2" transform="translate(355.40 499.80) scale(0.9377 1)" x="-0.000" y="0">O</text>
<rect x="384.5" y="491.9" width="14" height="10.4" rx="0.8" fill="#fff100" stroke="#2e2e2e" stroke-width="1.05"/><path d="M398.1 496.5L394.3 501.9H398.1Z" fill="#fff" stroke="#333" stroke-width="0.9" stroke-linejoin="round"/>
<text font-size="7.95" fill="#333" font-family="'Liberation Sans', sans-serif" stroke="#333" stroke-width="0.2" transform="translate(388.40 499.80) scale(0.9377 1)" x="-0.000" y="0">O</text>
<rect x="420.5" y="491.9" width="14" height="10.4" rx="0.8" fill="#fff100" stroke="#2e2e2e" stroke-width="1.05"/><path d="M434.1 496.5L430.3 501.9H434.1Z" fill="#fff" stroke="#333" stroke-width="0.9" stroke-linejoin="round"/>
<text font-size="7.95" fill="#333" font-family="'Liberation Sans', sans-serif" stroke="#333" stroke-width="0.2" transform="translate(424.40 499.80) scale(0.9377 1)" x="-0.000" y="0">O</text>
<rect x="456.5" y="491.9" width="14" height="10.4" rx="0.8" fill="#fff100" stroke="#2e2e2e" stroke-width="1.05"/><path d="M470.1 496.5L466.3 501.9H470.1Z" fill="#fff" stroke="#333" stroke-width="0.9" stroke-linejoin="round"/>
<text font-size="7.95" fill="#333" font-family="'Liberation Sans', sans-serif" stroke="#333" stroke-width="0.2" transform="translate(460.40 499.80) scale(0.9377 1)" x="-0.000" y="0">O</text>
<rect x="491.7" y="491.9" width="14" height="10.4" rx="0.8" fill="#fff100" stroke="#2e2e2e" stroke-width="1.05"/><path d="M505.3 496.5L501.5 501.9H505.3Z" fill="#fff" stroke="#333" stroke-width="0.9" stroke-linejoin="round"/>
<text font-size="7.95" fill="#333" font-family="'Liberation Sans', sans-serif" stroke="#333" stroke-width="0.2" transform="translate(495.60 499.80) scale(0.9377 1)" x="-0.000" y="0">O</text>
<rect x="527.5" y="491.9" width="14" height="10.4" rx="0.8" fill="#fff100" stroke="#2e2e2e" stroke-width="1.05"/><path d="M541.1 496.5L537.3 501.9H541.1Z" fill="#fff" stroke="#333" stroke-width="0.9" stroke-linejoin="round"/>
<text font-size="7.95" fill="#333" font-family="'Liberation Sans', sans-serif" stroke="#333" stroke-width="0.2" transform="translate(531.40 499.80) scale(0.9377 1)" x="-0.000" y="0">O</text>
<rect x="563.5" y="491.9" width="14" height="10.4" rx="0.8" fill="#fff100" stroke="#2e2e2e" stroke-width="1.05"/><path d="M577.1 496.5L573.3 501.9H577.1Z" fill="#fff" stroke="#333" stroke-width="0.9" stroke-linejoin="round"/>
<text font-size="7.95" fill="#333" font-family="'Liberation Sans', sans-serif" stroke="#333" stroke-width="0.2" transform="translate(567.40 499.80) scale(0.9377 1)" x="-0.000" y="0">O</text>
<rect x="599.7" y="491.9" width="14" height="10.4" rx="0.8" fill="#fff100" stroke="#2e2e2e" stroke-width="1.05"/><path d="M613.3 496.5L609.5 501.9H613.3Z" fill="#fff" stroke="#333" stroke-width="0.9" stroke-linejoin="round"/>
<text font-size="7.95" fill="#333" font-family="'Liberation Sans', sans-serif" stroke="#333" stroke-width="0.2" transform="translate(603.60 499.80) scale(0.9377 1)" x="-0.000" y="0">O</text>
<rect x="636.7" y="491.9" width="14" height="10.4" rx="0.8" fill="#fff100" stroke="#2e2e2e" stroke-width="1.05"/><path d="M650.3 496.5L646.5 501.9H650.3Z" fill="#fff" stroke="#333" stroke-width="0.9" stroke-linejoin="round"/>
<text font-size="7.95" fill="#333" font-family="'Liberation Sans', sans-serif" stroke="#333" stroke-width="0.2" transform="translate(640.60 499.80) scale(0.9377 1)" x="-0.000" y="0">O</text>
<rect x="672.1" y="491.9" width="14" height="10.4" rx="0.8" fill="#fff100" stroke="#2e2e2e" stroke-width="1.05"/><path d="M685.7 496.5L681.9 501.9H685.7Z" fill="#fff" stroke="#333" stroke-width="0.9" stroke-linejoin="round"/>
<text font-size="7.95" fill="#333" font-family="'Liberation Sans', sans-serif" stroke="#333" stroke-width="0.2" transform="translate(676.00 499.80) scale(0.9377 1)" x="-0.000" y="0">O</text>
<rect x="703.7" y="491.9" width="14" height="10.4" rx="0.8" fill="#fff100" stroke="#2e2e2e" stroke-width="1.05"/><path d="M717.3 496.5L713.5 501.9H717.3Z" fill="#fff" stroke="#333" stroke-width="0.9" stroke-linejoin="round"/>
<text font-size="7.95" fill="#333" font-family="'Liberation Sans', sans-serif" stroke="#333" stroke-width="0.2" transform="translate(707.60 499.80) scale(0.9377 1)" x="-0.000" y="0">O</text>
<rect x="351.5" y="510.8" width="14" height="10.4" rx="0.8" fill="#fff100" stroke="#2e2e2e" stroke-width="1.05"/><path d="M365.1 515.4L361.3 520.8H365.1Z" fill="#fff" stroke="#333" stroke-width="0.9" stroke-linejoin="round"/>
<text font-size="7.95" fill="#333" font-family="'Liberation Sans', sans-serif" stroke="#333" stroke-width="0.2" transform="translate(355.40 518.70) scale(0.9377 1)" x="-0.000" y="0">O</text>
<rect x="384.5" y="510.8" width="14" height="10.4" rx="0.8" fill="#fff100" stroke="#2e2e2e" stroke-width="1.05"/><path d="M398.1 515.4L394.3 520.8H398.1Z" fill="#fff" stroke="#333" stroke-width="0.9" stroke-linejoin="round"/>
<text font-size="7.95" fill="#333" font-family="'Liberation Sans', sans-serif" stroke="#333" stroke-width="0.2" transform="translate(388.40 518.70) scale(0.9377 1)" x="-0.000" y="0">O</text>
<rect x="420.5" y="510.8" width="14" height="10.4" rx="0.8" fill="#fff100" stroke="#2e2e2e" stroke-width="1.05"/><path d="M434.1 515.4L430.3 520.8H434.1Z" fill="#fff" stroke="#333" stroke-width="0.9" stroke-linejoin="round"/>
<text font-size="7.95" fill="#333" font-family="'Liberation Sans', sans-serif" stroke="#333" stroke-width="0.2" transform="translate(424.40 518.70) scale(0.9377 1)" x="-0.000" y="0">O</text>
<rect x="456.5" y="510.8" width="14" height="10.4" rx="0.8" fill="#fff100" stroke="#2e2e2e" stroke-width="1.05"/><path d="M470.1 515.4L466.3 520.8H470.1Z" fill="#fff" stroke="#333" stroke-width="0.9" stroke-linejoin="round"/>
<text font-size="7.95" fill="#333" font-family="'Liberation Sans', sans-serif" stroke="#333" stroke-width="0.2" transform="translate(460.40 518.70) scale(0.9377 1)" x="-0.000" y="0">O</text>
<rect x="491.7" y="510.8" width="14" height="10.4" rx="0.8" fill="#fff100" stroke="#2e2e2e" stroke-width="1.05"/><path d="M505.3 515.4L501.5 520.8H505.3Z" fill="#fff" stroke="#333" stroke-width="0.9" stroke-linejoin="round"/>
<text font-size="7.95" fill="#333" font-family="'Liberation Sans', sans-serif" stroke="#333" stroke-width="0.2" transform="translate(495.60 518.70) scale(0.9377 1)" x="-0.000" y="0">O</text>
<rect x="527.5" y="510.8" width="14" height="10.4" rx="0.8" fill="#fff100" stroke="#2e2e2e" stroke-width="1.05"/><path d="M541.1 515.4L537.3 520.8H541.1Z" fill="#fff" stroke="#333" stroke-width="0.9" stroke-linejoin="round"/>
<text font-size="7.95" fill="#333" font-family="'Liberation Sans', sans-serif" stroke="#333" stroke-width="0.2" transform="translate(531.40 518.70) scale(0.9377 1)" x="-0.000" y="0">O</text>
<rect x="563.5" y="510.8" width="14" height="10.4" rx="0.8" fill="#fff100" stroke="#2e2e2e" stroke-width="1.05"/><path d="M577.1 515.4L573.3 520.8H577.1Z" fill="#fff" stroke="#333" stroke-width="0.9" stroke-linejoin="round"/>
<text font-size="7.95" fill="#333" font-family="'Liberation Sans', sans-serif" stroke="#333" stroke-width="0.2" transform="translate(567.40 518.70) scale(0.9377 1)" x="-0.000" y="0">O</text>
<rect x="599.7" y="510.8" width="14" height="10.4" rx="0.8" fill="#fff100" stroke="#2e2e2e" stroke-width="1.05"/><path d="M613.3 515.4L609.5 520.8H613.3Z" fill="#fff" stroke="#333" stroke-width="0.9" stroke-linejoin="round"/>
<text font-size="7.95" fill="#333" font-family="'Liberation Sans', sans-serif" stroke="#333" stroke-width="0.2" transform="translate(603.60 518.70) scale(0.9377 1)" x="-0.000" y="0">O</text>
<rect x="636.7" y="510.8" width="14" height="10.4" rx="0.8" fill="#fff100" stroke="#2e2e2e" stroke-width="1.05"/><path d="M650.3 515.4L646.5 520.8H650.3Z" fill="#fff" stroke="#333" stroke-width="0.9" stroke-linejoin="round"/>
<text font-size="7.95" fill="#333" font-family="'Liberation Sans', sans-serif" stroke="#333" stroke-width="0.2" transform="translate(640.60 518.70) scale(0.9377 1)" x="-0.000" y="0">O</text>
<rect x="672.1" y="510.8" width="14" height="10.4" rx="0.8" fill="#fff100" stroke="#2e2e2e" stroke-width="1.05"/><path d="M685.7 515.4L681.9 520.8H685.7Z" fill="#fff" stroke="#333" stroke-width="0.9" stroke-linejoin="round"/>
<text font-size="7.95" fill="#333" font-family="'Liberation Sans', sans-serif" stroke="#333" stroke-width="0.2" transform="translate(676.00 518.70) scale(0.9377 1)" x="-0.000" y="0">O</text>
<rect x="703.7" y="510.8" width="14" height="10.4" rx="0.8" fill="#fff100" stroke="#2e2e2e" stroke-width="1.05"/><path d="M717.3 515.4L713.5 520.8H717.3Z" fill="#fff" stroke="#333" stroke-width="0.9" stroke-linejoin="round"/>
<text font-size="7.95" fill="#333" font-family="'Liberation Sans', sans-serif" stroke="#333" stroke-width="0.2" transform="translate(707.60 518.70) scale(0.9377 1)" x="-0.000" y="0">O</text>
<rect x="351.5" y="531.7" width="14" height="10.4" rx="0.8" fill="#fff100" stroke="#2e2e2e" stroke-width="1.05"/><path d="M365.1 536.3L361.3 541.7H365.1Z" fill="#fff" stroke="#333" stroke-width="0.9" stroke-linejoin="round"/>
<text font-size="7.95" fill="#333" font-family="'Liberation Sans', sans-serif" stroke="#333" stroke-width="0.2" transform="translate(355.40 539.60) scale(0.9377 1)" x="-0.000" y="0">O</text>
<rect x="384.5" y="531.7" width="14" height="10.4" rx="0.8" fill="#fff100" stroke="#2e2e2e" stroke-width="1.05"/><path d="M398.1 536.3L394.3 541.7H398.1Z" fill="#fff" stroke="#333" stroke-width="0.9" stroke-linejoin="round"/>
<text font-size="7.95" fill="#333" font-family="'Liberation Sans', sans-serif" stroke="#333" stroke-width="0.2" transform="translate(388.40 539.60) scale(0.9377 1)" x="-0.000" y="0">O</text>
<rect x="420.5" y="531.7" width="14" height="10.4" rx="0.8" fill="#fff100" stroke="#2e2e2e" stroke-width="1.05"/><path d="M434.1 536.3L430.3 541.7H434.1Z" fill="#fff" stroke="#333" stroke-width="0.9" stroke-linejoin="round"/>
<text font-size="7.95" fill="#333" font-family="'Liberation Sans', sans-serif" stroke="#333" stroke-width="0.2" transform="translate(424.40 539.60) scale(0.9377 1)" x="-0.000" y="0">O</text>
<rect x="456.5" y="531.7" width="14" height="10.4" rx="0.8" fill="#fff100" stroke="#2e2e2e" stroke-width="1.05"/><path d="M470.1 536.3L466.3 541.7H470.1Z" fill="#fff" stroke="#333" stroke-width="0.9" stroke-linejoin="round"/>
<text font-size="7.95" fill="#333" font-family="'Liberation Sans', sans-serif" stroke="#333" stroke-width="0.2" transform="translate(460.40 539.60) scale(0.9377 1)" x="-0.000" y="0">O</text>
<rect x="491.7" y="531.7" width="14" height="10.4" rx="0.8" fill="#fff100" stroke="#2e2e2e" stroke-width="1.05"/><path d="M505.3 536.3L501.5 541.7H505.3Z" fill="#fff" stroke="#333" stroke-width="0.9" stroke-linejoin="round"/>
<text font-size="7.95" fill="#333" font-family="'Liberation Sans', sans-serif" stroke="#333" stroke-width="0.2" transform="translate(495.60 539.60) scale(0.9377 1)" x="-0.000" y="0">O</text>
<rect x="527.5" y="531.7" width="14" height="10.4" rx="0.8" fill="#fff100" stroke="#2e2e2e" stroke-width="1.05"/><path d="M541.1 536.3L537.3 541.7H541.1Z" fill="#fff" stroke="#333" stroke-width="0.9" stroke-linejoin="round"/>
<text font-size="7.95" fill="#333" font-family="'Liberation Sans', sans-serif" stroke="#333" stroke-width="0.2" transform="translate(531.40 539.60) scale(0.9377 1)" x="-0.000" y="0">O</text>
<rect x="563.5" y="531.7" width="14" height="10.4" rx="0.8" fill="#fff100" stroke="#2e2e2e" stroke-width="1.05"/><path d="M577.1 536.3L573.3 541.7H577.1Z" fill="#fff" stroke="#333" stroke-width="0.9" stroke-linejoin="round"/>
<text font-size="7.95" fill="#333" font-family="'Liberation Sans', sans-serif" stroke="#333" stroke-width="0.2" transform="translate(567.40 539.60) scale(0.9377 1)" x="-0.000" y="0">O</text>
<rect x="599.7" y="531.7" width="14" height="10.4" rx="0.8" fill="#fff100" stroke="#2e2e2e" stroke-width="1.05"/><path d="M613.3 536.3L609.5 541.7H613.3Z" fill="#fff" stroke="#333" stroke-width="0.9" stroke-linejoin="round"/>
<text font-size="7.95" fill="#333" font-family="'Liberation Sans', sans-serif" stroke="#333" stroke-width="0.2" transform="translate(603.60 539.60) scale(0.9377 1)" x="-0.000" y="0">O</text>
<rect x="636.7" y="531.7" width="14" height="10.4" rx="0.8" fill="#fff100" stroke="#2e2e2e" stroke-width="1.05"/><path d="M650.3 536.3L646.5 541.7H650.3Z" fill="#fff" stroke="#333" stroke-width="0.9" stroke-linejoin="round"/>
<text font-size="7.95" fill="#333" font-family="'Liberation Sans', sans-serif" stroke="#333" stroke-width="0.2" transform="translate(640.60 539.60) scale(0.9377 1)" x="-0.000" y="0">O</text>
<rect x="672.1" y="531.7" width="14" height="10.4" rx="0.8" fill="#fff100" stroke="#2e2e2e" stroke-width="1.05"/><path d="M685.7 536.3L681.9 541.7H685.7Z" fill="#fff" stroke="#333" stroke-width="0.9" stroke-linejoin="round"/>
<text font-size="7.95" fill="#333" font-family="'Liberation Sans', sans-serif" stroke="#333" stroke-width="0.2" transform="translate(676.00 539.60) scale(0.9377 1)" x="-0.000" y="0">O</text>
<rect x="703.7" y="531.7" width="14" height="10.4" rx="0.8" fill="#fff100" stroke="#2e2e2e" stroke-width="1.05"/><path d="M717.3 536.3L713.5 541.7H717.3Z" fill="#fff" stroke="#333" stroke-width="0.9" stroke-linejoin="round"/>
<text font-size="7.95" fill="#333" font-family="'Liberation Sans', sans-serif" stroke="#333" stroke-width="0.2" transform="translate(707.60 539.60) scale(0.9377 1)" x="-0.000" y="0">O</text>
<rect x="384.5" y="552.2" width="14" height="10.4" rx="0.8" fill="#fff100" stroke="#2e2e2e" stroke-width="1.05"/><path d="M398.1 556.8L394.3 562.2H398.1Z" fill="#fff" stroke="#333" stroke-width="0.9" stroke-linejoin="round"/>
<text font-size="7.95" fill="#333" font-family="'Liberation Sans', sans-serif" stroke="#333" stroke-width="0.2" transform="translate(388.40 560.10) scale(0.9377 1)" x="-0.000" y="0">O</text>
<rect x="420.5" y="552.2" width="14" height="10.4" rx="0.8" fill="#fff100" stroke="#2e2e2e" stroke-width="1.05"/><path d="M434.1 556.8L430.3 562.2H434.1Z" fill="#fff" stroke="#333" stroke-width="0.9" stroke-linejoin="round"/>
<text font-size="7.95" fill="#333" font-family="'Liberation Sans', sans-serif" stroke="#333" stroke-width="0.2" transform="translate(424.40 560.10) scale(0.9377 1)" x="-0.000" y="0">O</text>
<rect x="456.5" y="552.2" width="14" height="10.4" rx="0.8" fill="#fff100" stroke="#2e2e2e" stroke-width="1.05"/><path d="M470.1 556.8L466.3 562.2H470.1Z" fill="#fff" stroke="#333" stroke-width="0.9" stroke-linejoin="round"/>
<text font-size="7.95" fill="#333" font-family="'Liberation Sans', sans-serif" stroke="#333" stroke-width="0.2" transform="translate(460.40 560.10) scale(0.9377 1)" x="-0.000" y="0">O</text>
<rect x="491.7" y="552.2" width="14" height="10.4" rx="0.8" fill="#fff100" stroke="#2e2e2e" stroke-width="1.05"/><path d="M505.3 556.8L501.5 562.2H505.3Z" fill="#fff" stroke="#333" stroke-width="0.9" stroke-linejoin="round"/>
<text font-size="7.95" fill="#333" font-family="'Liberation Sans', sans-serif" stroke="#333" stroke-width="0.2" transform="translate(495.60 560.10) scale(0.9377 1)" x="-0.000" y="0">O</text>
<rect x="527.5" y="552.2" width="14" height="10.4" rx="0.8" fill="#fff100" stroke="#2e2e2e" stroke-width="1.05"/><path d="M541.1 556.8L537.3 562.2H541.1Z" fill="#fff" stroke="#333" stroke-width="0.9" stroke-linejoin="round"/>
<text font-size="7.95" fill="#333" font-family="'Liberation Sans', sans-serif" stroke="#333" stroke-width="0.2" transform="translate(531.40 560.10) scale(0.9377 1)" x="-0.000" y="0">O</text>
<rect x="563.5" y="552.2" width="14" height="10.4" rx="0.8" fill="#fff100" stroke="#2e2e2e" stroke-width="1.05"/><path d="M577.1 556.8L573.3 562.2H577.1Z" fill="#fff" stroke="#333" stroke-width="0.9" stroke-linejoin="round"/>
<text font-size="7.95" fill="#333" font-family="'Liberation Sans', sans-serif" stroke="#333" stroke-width="0.2" transform="translate(567.40 560.10) scale(0.9377 1)" x="-0.000" y="0">O</text>
<rect x="599.7" y="552.2" width="14" height="10.4" rx="0.8" fill="#fff100" stroke="#2e2e2e" stroke-width="1.05"/><path d="M613.3 556.8L609.5 562.2H613.3Z" fill="#fff" stroke="#333" stroke-width="0.9" stroke-linejoin="round"/>
<text font-size="7.95" fill="#333" font-family="'Liberation Sans', sans-serif" stroke="#333" stroke-width="0.2" transform="translate(603.60 560.10) scale(0.9377 1)" x="-0.000" y="0">O</text>
<rect x="636.7" y="552.2" width="14" height="10.4" rx="0.8" fill="#fff100" stroke="#2e2e2e" stroke-width="1.05"/><path d="M650.3 556.8L646.5 562.2H650.3Z" fill="#fff" stroke="#333" stroke-width="0.9" stroke-linejoin="round"/>
<text font-size="7.95" fill="#333" font-family="'Liberation Sans', sans-serif" stroke="#333" stroke-width="0.2" transform="translate(640.60 560.10) scale(0.9377 1)" x="-0.000" y="0">O</text>
<rect x="672.1" y="552.2" width="14" height="10.4" rx="0.8" fill="#fff100" stroke="#2e2e2e" stroke-width="1.05"/><path d="M685.7 556.8L681.9 562.2H685.7Z" fill="#fff" stroke="#333" stroke-width="0.9" stroke-linejoin="round"/>
<text font-size="7.95" fill="#333" font-family="'Liberation Sans', sans-serif" stroke="#333" stroke-width="0.2" transform="translate(676.00 560.10) scale(0.9377 1)" x="-0.000" y="0">O</text>
</g>
</svg>
</div>
</body></html>
